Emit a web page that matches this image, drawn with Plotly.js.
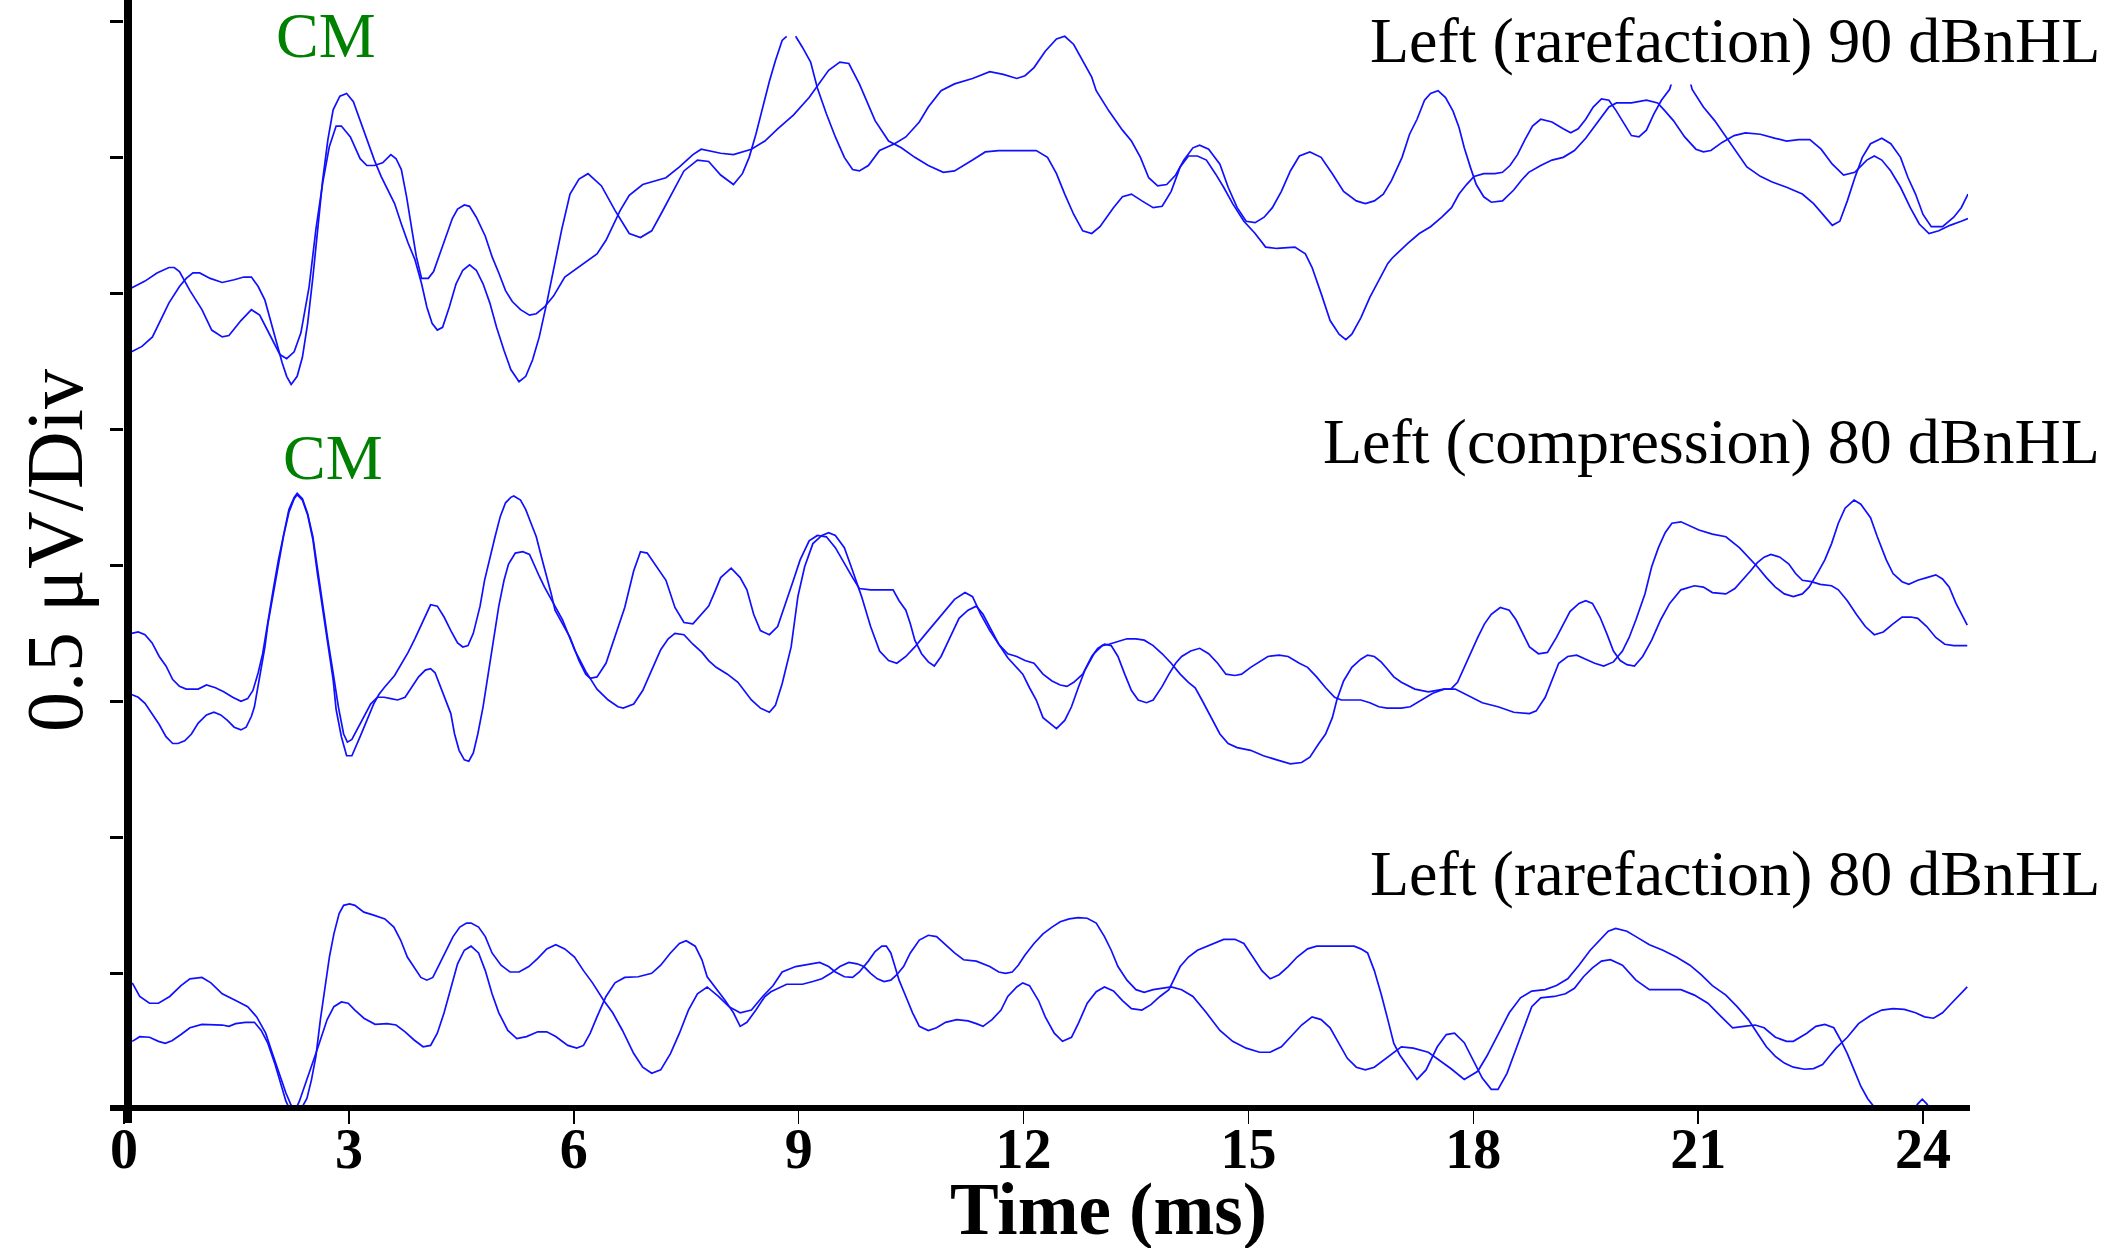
<!DOCTYPE html>
<html>
<head>
<meta charset="utf-8">
<script src="https://cdn.plot.ly/plotly-3.0.1.min.js"></script>
<style>html,body{margin:0;padding:0;background:#fff;}#chart{width:2114px;height:1248px;}</style>
</head>
<body>
<div id="chart"></div>
<script>
// ---------- DATA (time in ms, trace position in divisions of 0.5 µV) ----------
const groupLabels = ["Left (rarefaction) 90 dBnHL", "Left (compression) 80 dBnHL", "Left (rarefaction) 80 dBnHL"];
const peakLabel = "CM";
const xTickValues = [0, 3, 6, 9, 12, 15, 18, 21, 24];
const yTickValues = [1, 2, 3, 4, 5, 6, 7, 8];
const xTitle = "Time (ms)";
const yTitle = "0.5 μV/Div";

// Group 1: Left (rarefaction) 90 dBnHL, replicate 1
const timeR90a = [0.10,0.24,0.38,0.47,0.60,0.74,0.83,0.92,1.01,1.15,1.31,1.47,1.60,1.70,1.79,1.88,1.97,2.04,2.11,2.17,2.23,2.31,2.38,2.45,2.52,2.58,2.65,2.72,2.79,2.88,2.97,3.06,3.15,3.24,3.34,3.43,3.52,3.61,3.70,3.79,3.88,3.97,4.04,4.11,4.18,4.25,4.34,4.43,4.52,4.61,4.70,4.79,4.88,4.97,5.07,5.16,5.27,5.36,5.45,5.54,5.64,5.73,5.84,5.95,6.07,6.19,6.37,6.55,6.74,6.89,7.04,7.16,7.29,7.47,7.65,7.80,7.96,8.13,8.25,8.34,8.43,8.52,8.61,8.69,8.78,8.84,8.90,8.96,9.05,9.16,9.25,9.37,9.49,9.61,9.72,9.81,9.93,10.08,10.28,10.43,10.61,10.73,10.90,11.08,11.32,11.55,11.73,11.91,12.02,12.14,12.29,12.44,12.55,12.67,12.79,12.91,12.97,13.14,13.32,13.44,13.56,13.67,13.79,13.91,14.03,14.14,14.26,14.35,14.47,14.62,14.73,14.85,14.97,15.09,15.21,15.32,15.44,15.56,15.68,15.82,15.97,16.12,16.27,16.44,16.56,16.68,16.80,16.91,17.05,17.15,17.25,17.35,17.43,17.53,17.63,17.73,17.81,17.88,17.96,18.04,18.14,18.24,18.39,18.54,18.64,18.74,18.90,19.05,19.20,19.35,19.50,19.65,19.81,19.91,20.11,20.31,20.46,20.56,20.67,20.82,20.97,21.07,21.17,21.32,21.48,21.63,21.83,22.03,22.18,22.34,22.49,22.64,22.79,22.94,23.09,23.25,23.35,23.45,23.57,23.70,23.83,23.95,24.08,24.21,24.36,24.51,24.60];
const voltR90a = [5.57,5.61,5.68,5.78,5.93,6.05,6.11,6.15,6.15,6.11,6.08,6.10,6.12,6.12,6.05,5.95,5.78,5.63,5.49,5.39,5.33,5.39,5.53,5.78,6.12,6.47,6.83,7.13,7.35,7.45,7.47,7.41,7.27,7.13,6.98,6.86,6.76,6.66,6.51,6.37,6.25,6.07,5.90,5.78,5.73,5.75,5.90,6.07,6.17,6.21,6.17,6.07,5.93,5.75,5.58,5.44,5.35,5.39,5.51,5.68,5.93,6.17,6.47,6.73,6.84,6.88,6.79,6.61,6.44,6.41,6.46,6.58,6.71,6.90,6.98,6.97,6.87,6.80,6.88,7.00,7.17,7.37,7.56,7.71,7.86,7.89,null,7.89,7.81,7.70,7.51,7.32,7.15,7.00,6.91,6.90,6.94,7.05,7.10,7.15,7.26,7.37,7.49,7.54,7.58,7.63,7.61,7.58,7.60,7.66,7.78,7.87,7.89,7.83,7.71,7.59,7.49,7.34,7.20,7.12,7.00,6.85,6.79,6.80,6.87,6.98,7.07,7.09,7.06,6.95,6.78,6.63,6.53,6.52,6.56,6.63,6.75,6.90,7.01,7.04,7.00,6.88,6.75,6.68,6.66,6.68,6.73,6.83,7.00,7.17,7.28,7.42,7.47,7.49,7.44,7.34,7.22,7.07,6.93,6.80,6.71,6.67,6.68,6.76,6.83,6.89,6.94,6.98,7.00,7.05,7.14,7.25,7.37,7.40,7.40,7.42,7.40,7.34,7.27,7.15,7.06,7.04,7.05,7.11,7.16,7.18,7.17,7.14,7.12,7.13,7.13,7.06,6.95,6.87,6.89,6.98,7.01,6.98,6.90,6.78,6.63,6.51,6.44,6.46,6.50,6.53,6.55];

// Group 1: Left (rarefaction) 90 dBnHL, replicate 2
const timeR90b = [0.10,0.28,0.44,0.60,0.67,0.74,0.88,1.04,1.17,1.31,1.40,1.56,1.70,1.81,1.95,2.08,2.17,2.27,2.36,2.47,2.56,2.65,2.74,2.83,2.90,3.02,3.15,3.24,3.34,3.45,3.56,3.63,3.70,3.77,3.84,3.90,3.97,4.06,4.13,4.20,4.29,4.38,4.45,4.54,4.61,4.70,4.82,4.91,5.00,5.09,5.18,5.29,5.41,5.50,5.61,5.73,5.88,6.13,6.31,6.43,6.62,6.74,6.92,7.23,7.41,7.59,7.70,7.96,8.13,8.37,8.55,8.72,8.93,9.14,9.28,9.40,9.55,9.67,9.81,10.02,10.20,10.37,10.55,10.73,10.93,11.08,11.32,11.49,11.67,11.91,12.17,12.32,12.44,12.55,12.67,12.79,12.91,13.02,13.20,13.32,13.44,13.58,13.73,13.85,13.97,14.09,14.20,14.32,14.44,14.56,14.67,14.79,14.94,15.09,15.23,15.38,15.62,15.76,15.85,15.97,16.09,16.21,16.30,16.38,16.50,16.62,16.74,16.86,16.92,17.13,17.28,17.43,17.58,17.71,17.81,17.91,18.01,18.14,18.29,18.39,18.49,18.59,18.69,18.79,18.90,19.05,19.20,19.30,19.40,19.50,19.60,19.71,19.81,19.91,20.01,20.11,20.21,20.31,20.41,20.51,20.62,20.70,20.77,20.85,20.92,21.07,21.22,21.37,21.53,21.65,21.83,21.98,22.18,22.39,22.54,22.69,22.79,22.89,22.99,23.09,23.19,23.30,23.45,23.57,23.70,23.80,23.90,24.00,24.11,24.26,24.41,24.51,24.60];
const voltR90b = [6.04,6.09,6.15,6.19,6.19,6.16,6.02,5.88,5.73,5.68,5.69,5.80,5.88,5.84,5.69,5.55,5.52,5.57,5.71,6.05,6.47,6.81,7.08,7.23,7.23,7.15,6.99,6.94,6.94,6.96,7.02,6.99,6.91,6.71,6.47,6.27,6.11,6.11,6.16,6.27,6.42,6.55,6.62,6.65,6.64,6.56,6.42,6.27,6.15,6.02,5.94,5.88,5.84,5.85,5.90,5.98,6.12,6.22,6.29,6.39,6.61,6.72,6.80,6.85,6.93,7.02,7.06,7.03,7.02,7.06,7.12,7.21,7.31,7.44,7.55,7.64,7.70,7.69,7.54,7.27,7.12,7.07,7.00,6.94,6.89,6.90,6.98,7.04,7.05,7.05,7.05,7.00,6.88,6.73,6.58,6.46,6.44,6.49,6.63,6.71,6.73,6.68,6.63,6.64,6.75,6.93,7.01,7.01,6.98,6.88,6.78,6.66,6.53,6.44,6.34,6.33,6.34,6.29,6.19,6.00,5.80,5.70,5.66,5.70,5.82,5.97,6.09,6.22,6.26,6.37,6.44,6.49,6.56,6.63,6.73,6.80,6.86,6.88,6.88,6.89,6.94,7.02,7.13,7.23,7.28,7.26,7.21,7.18,7.21,7.28,7.37,7.43,7.42,7.34,7.25,7.16,7.15,7.20,7.32,7.42,7.50,7.65,7.72,7.65,7.50,7.37,7.27,7.15,7.02,6.93,6.86,6.82,6.78,6.73,6.66,6.56,6.50,6.53,6.68,6.85,7.00,7.10,7.14,7.10,7.00,6.85,6.73,6.58,6.49,6.49,6.56,6.63,6.73];

// Group 2: Left (compression) 80 dBnHL, replicate 1
const timeC80a = [0.10,0.19,0.28,0.375,0.47,0.56,0.65,0.72,0.81,0.90,0.99,1.10,1.20,1.29,1.38,1.47,1.56,1.63,1.70,1.74,1.79,1.83,1.88,1.92,1.99,2.06,2.13,2.20,2.27,2.31,2.38,2.45,2.52,2.58,2.65,2.72,2.79,2.83,2.90,2.97,3.04,3.15,3.24,3.33,3.40,3.47,3.61,3.70,3.79,3.88,3.97,4.03,4.09,4.18,4.27,4.36,4.45,4.52,4.59,4.66,4.75,4.81,4.88,4.95,5.02,5.09,5.16,5.20,5.29,5.36,5.43,5.50,5.57,5.64,5.70,5.75,5.95,6.07,6.16,6.22,6.31,6.43,6.55,6.68,6.80,6.89,6.98,7.10,7.23,7.35,7.47,7.59,7.71,7.80,7.87,7.96,8.10,8.22,8.31,8.40,8.49,8.61,8.72,8.81,8.93,9.02,9.14,9.25,9.37,9.49,9.61,9.72,9.81,9.96,10.14,10.26,10.34,10.43,10.49,10.55,10.64,10.73,10.81,10.90,11.02,11.14,11.26,11.37,11.46,11.55,11.67,11.79,11.91,11.99,12.08,12.17,12.26,12.35,12.44,12.55,12.64,12.73,12.82,12.94,13.05,13.14,13.26,13.38,13.50,13.61,13.73,13.85,13.97,14.09,14.20,14.29,14.38,14.50,14.62,14.73,14.85,15.03,15.20,15.38,15.56,15.71,15.82,15.94,16.03,16.12,16.18,16.27,16.38,16.50,16.59,16.68,16.77,16.85,16.94,17.04,17.22,17.40,17.61,17.76,17.94,18.12,18.33,18.54,18.75,18.84,18.96,19.05,19.14,19.26,19.38,19.50,19.62,19.74,19.87,19.99,20.08,20.17,20.29,20.38,20.47,20.56,20.65,20.77,20.89,21.01,21.19,21.37,21.55,21.67,21.79,21.91,22.03,22.15,22.27,22.39,22.48,22.60,22.69,22.78,22.87,22.96,23.08,23.17,23.30,23.39,23.51,23.60,23.72,23.81,23.93,24.05,24.17,24.26,24.35,24.44,24.53,24.59];
const voltC80a = [3.05,3.03,2.985,2.91,2.83,2.74,2.69,2.69,2.71,2.76,2.84,2.90,2.92,2.90,2.86,2.81,2.79,2.81,2.89,2.96,3.11,3.25,3.40,3.57,3.79,4.01,4.22,4.39,4.49,4.52,4.48,4.37,4.19,3.94,3.67,3.40,3.16,2.94,2.74,2.60,2.60,2.74,2.86,2.98,3.05,3.10,3.19,3.27,3.36,3.46,3.57,3.65,3.71,3.70,3.62,3.52,3.43,3.40,3.41,3.50,3.70,3.89,4.06,4.21,4.36,4.46,4.50,4.51,4.48,4.41,4.31,4.21,4.06,3.92,3.79,3.67,3.47,3.30,3.20,3.17,3.18,3.28,3.47,3.69,3.96,4.10,4.09,3.99,3.89,3.69,3.58,3.57,3.64,3.70,3.79,3.91,3.98,3.91,3.82,3.64,3.52,3.49,3.55,3.69,3.89,4.04,4.18,4.22,4.21,4.13,4.01,3.91,3.83,3.82,3.82,3.82,3.74,3.67,3.57,3.45,3.35,3.29,3.26,3.33,3.47,3.61,3.67,3.70,3.64,3.55,3.42,3.32,3.25,3.20,3.10,3.01,2.88,2.84,2.80,2.86,2.96,3.10,3.23,3.35,3.41,3.42,3.44,3.46,3.46,3.45,3.41,3.35,3.28,3.20,3.14,3.10,3.01,2.88,2.76,2.69,2.66,2.64,2.60,2.57,2.54,2.55,2.59,2.69,2.76,2.88,3.01,3.15,3.25,3.31,3.34,3.33,3.29,3.24,3.18,3.14,3.09,3.07,3.09,3.09,3.04,2.99,2.96,2.92,2.91,2.93,3.03,3.15,3.28,3.33,3.34,3.31,3.28,3.26,3.29,3.37,3.47,3.60,3.79,3.99,4.13,4.24,4.31,4.32,4.29,4.26,4.23,4.21,4.13,4.06,3.99,3.91,3.84,3.79,3.77,3.79,3.84,3.95,4.04,4.16,4.31,4.42,4.48,4.45,4.35,4.21,4.04,3.94,3.88,3.86,3.89,3.91,3.93,3.90,3.84,3.72,3.62,3.56];

// Group 2: Left (compression) 80 dBnHL, replicate 2
const timeC80b = [0.10,0.19,0.28,0.375,0.47,0.56,0.65,0.74,0.83,0.99,1.10,1.22,1.33,1.45,1.56,1.65,1.72,1.79,1.85,1.92,1.99,2.06,2.13,2.20,2.27,2.31,2.38,2.45,2.52,2.58,2.65,2.72,2.79,2.86,2.93,2.98,3.04,3.11,3.20,3.29,3.38,3.47,3.56,3.65,3.75,3.84,3.93,4.02,4.09,4.15,4.22,4.29,4.36,4.41,4.47,4.54,4.60,4.66,4.72,4.79,4.86,4.93,5.00,5.07,5.13,5.22,5.32,5.41,5.48,5.54,5.61,5.68,5.75,5.85,6.01,6.16,6.31,6.46,6.59,6.66,6.80,6.92,7.04,7.16,7.26,7.35,7.47,7.59,7.71,7.80,7.90,8.05,8.19,8.37,8.49,8.61,8.69,8.78,8.90,8.99,9.08,9.19,9.31,9.40,9.49,9.61,9.72,9.84,9.96,10.08,10.20,10.31,10.43,10.55,10.70,10.81,10.96,11.08,11.22,11.32,11.43,11.55,11.67,11.79,11.91,12.02,12.14,12.26,12.38,12.49,12.58,12.67,12.79,12.91,12.99,13.08,13.17,13.26,13.35,13.44,13.53,13.64,13.73,13.85,13.94,14.03,14.11,14.23,14.35,14.47,14.59,14.70,14.82,14.91,15.03,15.15,15.26,15.41,15.53,15.68,15.79,15.91,16.03,16.15,16.24,16.38,16.50,16.62,16.74,16.85,17.04,17.16,17.31,17.46,17.61,17.70,17.79,17.88,17.97,18.06,18.15,18.24,18.36,18.48,18.57,18.66,18.75,18.87,18.99,19.11,19.20,19.29,19.41,19.50,19.59,19.69,19.78,19.87,19.96,20.05,20.15,20.26,20.38,20.50,20.62,20.77,20.95,21.07,21.19,21.37,21.49,21.61,21.70,21.79,21.88,21.97,22.09,22.21,22.30,22.39,22.51,22.63,22.78,22.87,22.99,23.11,23.23,23.35,23.47,23.60,23.72,23.84,23.93,24.05,24.17,24.29,24.41,24.59];
const voltC80b = [3.50,3.51,3.49,3.43,3.33,3.26,3.16,3.11,3.09,3.09,3.12,3.10,3.07,3.03,3.00,3.02,3.08,3.21,3.35,3.60,3.82,4.04,4.23,4.41,4.50,4.53,4.49,4.38,4.21,3.97,3.72,3.45,3.21,2.96,2.76,2.70,2.72,2.79,2.89,2.98,3.03,3.03,3.02,3.01,3.03,3.11,3.18,3.23,3.24,3.21,3.11,3.01,2.91,2.76,2.64,2.57,2.56,2.62,2.76,2.96,3.21,3.45,3.70,3.89,4.01,4.09,4.10,4.08,3.99,3.92,3.84,3.77,3.70,3.60,3.38,3.22,3.09,3.01,2.96,2.95,2.98,3.08,3.23,3.38,3.46,3.50,3.49,3.42,3.36,3.30,3.25,3.20,3.14,3.01,2.95,2.92,2.97,3.13,3.40,3.77,3.99,4.16,4.22,4.24,4.22,4.13,3.96,3.77,3.55,3.37,3.30,3.28,3.33,3.40,3.50,3.57,3.67,3.75,3.80,3.77,3.64,3.52,3.42,3.35,3.33,3.30,3.28,3.20,3.15,3.12,3.11,3.14,3.20,3.33,3.39,3.42,3.41,3.33,3.20,3.08,3.01,2.99,3.01,3.11,3.20,3.28,3.33,3.37,3.39,3.35,3.28,3.20,3.19,3.20,3.25,3.29,3.33,3.34,3.33,3.28,3.25,3.18,3.10,3.03,3.01,3.01,3.01,2.99,2.96,2.95,2.95,2.96,3.01,3.06,3.09,3.09,3.14,3.25,3.37,3.47,3.57,3.64,3.69,3.67,3.60,3.50,3.40,3.35,3.36,3.47,3.57,3.66,3.72,3.74,3.72,3.62,3.50,3.37,3.30,3.27,3.26,3.33,3.45,3.60,3.72,3.82,3.85,3.84,3.80,3.79,3.83,3.90,3.96,4.02,4.06,4.08,4.06,4.01,3.94,3.89,3.88,3.86,3.85,3.82,3.74,3.64,3.55,3.49,3.51,3.57,3.62,3.62,3.61,3.55,3.47,3.42,3.41,3.41];

// Group 3: Left (rarefaction) 80 dBnHL, replicate 1
const timeR80a = [0.11,0.21,0.34,0.46,0.61,0.76,0.88,1.04,1.16,1.31,1.49,1.65,1.77,1.89,1.98,2.07,2.16,2.23,2.30,2.38,2.44,2.50,2.56,2.62,2.68,2.74,2.80,2.87,2.93,3.01,3.08,3.20,3.32,3.48,3.60,3.69,3.78,3.87,3.96,4.04,4.12,4.21,4.30,4.39,4.48,4.57,4.63,4.73,4.82,4.91,5.03,5.15,5.27,5.40,5.52,5.64,5.76,5.88,6.01,6.13,6.25,6.40,6.52,6.65,6.80,6.92,7.04,7.16,7.29,7.41,7.53,7.65,7.78,7.93,8.07,8.22,8.37,8.52,8.66,8.78,8.96,9.14,9.28,9.40,9.49,9.61,9.72,9.81,9.93,10.02,10.11,10.17,10.23,10.28,10.34,10.43,10.52,10.61,10.73,10.84,10.96,11.11,11.26,11.37,11.46,11.58,11.70,11.79,11.91,11.99,12.08,12.20,12.29,12.41,12.52,12.64,12.73,12.85,12.97,13.08,13.20,13.32,13.44,13.58,13.70,13.82,13.94,14.09,14.20,14.32,14.50,14.67,14.82,14.94,15.06,15.18,15.29,15.41,15.53,15.65,15.79,15.91,16.09,16.27,16.41,16.50,16.59,16.68,16.77,16.86,16.94,17.02,17.13,17.25,17.37,17.52,17.64,17.75,17.88,18.00,18.12,18.24,18.33,18.45,18.57,18.69,18.78,18.90,19.08,19.23,19.35,19.47,19.59,19.71,19.83,19.99,20.17,20.35,20.53,20.77,20.95,21.13,21.31,21.46,21.61,21.76,21.88,22.03,22.18,22.27,22.45,22.57,22.69,22.81,22.90,22.99,23.08,23.17,23.26,23.33,23.45,23.65,23.85,23.93,23.99,24.05,24.15,24.35,24.60];
const voltR80a = [0.93,0.83,0.78,0.78,0.83,0.91,0.96,0.97,0.93,0.85,0.80,0.755,0.68,0.56,0.41,0.26,0.12,0.03,-0.02,0.02,0.08,0.215,0.39,0.66,0.90,1.12,1.29,1.44,1.50,1.51,1.50,1.45,1.43,1.40,1.34,1.245,1.12,1.04,0.97,0.95,0.97,1.07,1.17,1.27,1.34,1.37,1.37,1.34,1.27,1.15,1.06,1.01,1.01,1.05,1.11,1.18,1.21,1.18,1.12,1.02,0.93,0.80,0.71,0.58,0.41,0.31,0.265,0.29,0.41,0.56,0.73,0.85,0.90,0.83,0.755,0.71,0.73,0.83,0.91,1.01,1.05,1.07,1.08,1.05,1.01,0.975,0.97,1.01,1.09,1.16,1.20,1.20,1.15,1.06,0.95,0.83,0.71,0.61,0.58,0.60,0.64,0.66,0.65,0.63,0.61,0.66,0.73,0.83,0.90,0.93,0.91,0.80,0.68,0.56,0.50,0.53,0.63,0.78,0.865,0.90,0.87,0.80,0.74,0.73,0.77,0.83,0.88,1.05,1.12,1.17,1.21,1.25,1.25,1.22,1.12,1.02,0.96,0.99,1.05,1.12,1.18,1.20,1.20,1.20,1.20,1.18,1.15,1.02,0.85,0.66,0.485,0.40,0.31,0.22,0.29,0.46,0.55,0.56,0.49,0.36,0.23,0.147,0.147,0.265,0.44,0.63,0.755,0.82,0.83,0.85,0.89,0.975,1.04,1.09,1.10,1.06,0.95,0.88,0.88,0.88,0.84,0.78,0.68,0.60,0.61,0.62,0.60,0.53,0.50,0.50,0.56,0.61,0.625,0.60,0.51,0.41,0.29,0.17,0.08,0.03,-0.08,-0.10,-0.02,0.04,0.075,0.04,-0.04,-0.12,-0.15];

// Group 3: Left (rarefaction) 80 dBnHL, replicate 2
const timeR80b = [0.11,0.21,0.34,0.46,0.55,0.64,0.76,0.88,1.04,1.19,1.31,1.40,1.49,1.62,1.74,1.83,1.92,2.01,2.10,2.16,2.23,2.29,2.34,2.41,2.50,2.59,2.71,2.80,2.90,2.99,3.08,3.20,3.35,3.51,3.63,3.75,3.87,3.99,4.09,4.18,4.27,4.36,4.45,4.54,4.63,4.73,4.82,4.91,5.00,5.12,5.24,5.37,5.52,5.64,5.76,5.92,6.04,6.13,6.22,6.31,6.43,6.55,6.68,6.86,7.04,7.16,7.29,7.41,7.50,7.62,7.71,7.78,7.90,8.02,8.13,8.22,8.31,8.43,8.55,8.63,8.84,9.05,9.19,9.31,9.43,9.55,9.67,9.78,9.87,9.96,10.05,10.14,10.23,10.31,10.40,10.49,10.61,10.73,10.84,10.96,11.08,11.20,11.37,11.55,11.67,11.76,11.85,11.93,12.02,12.14,12.26,12.38,12.49,12.61,12.73,12.85,12.97,13.08,13.17,13.26,13.38,13.50,13.61,13.73,13.85,13.97,14.11,14.26,14.44,14.62,14.79,14.97,15.15,15.29,15.44,15.56,15.71,15.85,15.97,16.09,16.21,16.32,16.44,16.56,16.68,16.80,16.91,17.04,17.20,17.40,17.70,17.88,18.06,18.18,18.33,18.48,18.63,18.78,18.96,19.11,19.26,19.41,19.56,19.71,19.80,19.90,20.05,20.17,20.35,20.53,20.71,20.89,21.04,21.19,21.37,21.52,21.67,21.79,21.91,22.03,22.15,22.27,22.42,22.54,22.66,22.75,22.84,22.99,23.14,23.30,23.45,23.60,23.75,23.90,24.02,24.14,24.26,24.38,24.50,24.59];
const voltR80b = [0.50,0.534,0.53,0.50,0.485,0.505,0.55,0.60,0.625,0.625,0.62,0.61,0.63,0.64,0.64,0.58,0.485,0.34,0.17,0.06,-0.02,0.00,0.06,0.17,0.31,0.46,0.66,0.755,0.79,0.78,0.73,0.67,0.625,0.63,0.62,0.57,0.51,0.46,0.47,0.56,0.71,0.90,1.07,1.17,1.20,1.15,1.02,0.85,0.71,0.58,0.52,0.535,0.57,0.57,0.535,0.47,0.45,0.47,0.56,0.68,0.83,0.93,0.97,0.975,1.00,1.06,1.15,1.22,1.24,1.20,1.10,0.975,0.89,0.80,0.71,0.61,0.64,0.73,0.83,0.865,0.92,0.92,0.94,0.96,1.00,1.05,1.08,1.07,1.05,1.00,0.96,0.94,0.95,0.99,1.05,1.15,1.245,1.28,1.27,1.21,1.15,1.10,1.09,1.05,1.01,1.00,1.01,1.06,1.135,1.22,1.29,1.34,1.38,1.40,1.41,1.405,1.37,1.27,1.17,1.05,0.95,0.88,0.86,0.88,0.89,0.90,0.88,0.83,0.71,0.58,0.50,0.45,0.42,0.42,0.46,0.53,0.62,0.68,0.66,0.60,0.485,0.375,0.31,0.29,0.31,0.36,0.41,0.46,0.45,0.42,0.30,0.22,0.28,0.39,0.55,0.71,0.82,0.87,0.88,0.91,0.96,1.06,1.17,1.26,1.31,1.33,1.31,1.27,1.21,1.17,1.12,1.06,0.99,0.91,0.84,0.755,0.66,0.56,0.46,0.39,0.34,0.31,0.295,0.30,0.33,0.39,0.45,0.53,0.63,0.69,0.73,0.74,0.735,0.71,0.68,0.67,0.71,0.78,0.85,0.90];

const seriesTimes = [timeR90a, timeR90b, timeC80a, timeC80b, timeR80a, timeR80b];
const seriesVolts = [voltR90a, voltR90b, voltC80a, voltC80b, voltR80a, voltR80b];

// ---------- LAYOUT / STYLE ----------
const W = 2114, H = 1248;
const L = 124, R = 146, T = 0, B = 143;
const plotW = W - L - R, plotH = H - T - B;
const px = X => (X - L) / plotW;        // figure pixel -> paper x
const py = Y => (T + plotH - Y) / plotH; // figure pixel -> paper y
const serif = '"Liberation Serif", "Times New Roman", Times, serif';
const lineBlue = '#1010ff';
const xRange = [0, 24.6];

const traces = seriesTimes.map((t, i) => ({
  type: 'scatter', mode: 'lines', x: t, y: seriesVolts[i],
  line: {color: lineBlue, width: 1.7}, connectgaps: false,
  showlegend: false, hoverinfo: 'skip'
}));

const annotations = [
  {text: groupLabels[0], x: px(2109), y: py(41)},
  {text: groupLabels[1], x: px(2109), y: py(441)},
  {text: groupLabels[2], x: px(2109), y: py(873)}
].map(a => Object.assign(a, {
  xref: 'paper', yref: 'paper', xanchor: 'right', yanchor: 'middle', showarrow: false,
  font: {family: serif, size: 64, color: '#000'}, bgcolor: '#ffffff', borderpad: 8
}));
annotations.push(
  {text: peakLabel, x: px(326), y: py(35), xref: 'paper', yref: 'paper', xanchor: 'center', yanchor: 'middle',
   showarrow: false, font: {family: serif, size: 64, color: '#008000'}},
  {text: peakLabel, x: px(333), y: py(458), xref: 'paper', yref: 'paper', xanchor: 'center', yanchor: 'middle',
   showarrow: false, font: {family: serif, size: 64, color: '#008000'}},
  {text: yTitle, x: px(55), y: py(551), xref: 'paper', yref: 'paper', xanchor: 'center', yanchor: 'middle',
   textangle: -90, showarrow: false, font: {family: serif, size: 80, color: '#000'}},
  {text: xTitle, x: px(1108), y: py(1209), xref: 'paper', yref: 'paper', xanchor: 'center', yanchor: 'middle',
   showarrow: false, borderpad: 0, font: {family: serif, size: 73, color: '#000', weight: 'bold'}}
);

const shapes = [
  // vertical axis line (reaches to the top of the figure and just below the time axis)
  {type: 'line', xref: 'paper', yref: 'paper', x0: px(128), x1: px(128), y0: py(0), y1: py(1123),
   line: {color: '#000', width: 8}, layer: 'above'},
  // time axis line
  {type: 'line', xref: 'paper', yref: 'paper', x0: px(110), x1: px(1970), y0: py(1108), y1: py(1108),
   line: {color: '#000', width: 6}, layer: 'above'}
];

const layout = {
  width: W, height: H,
  margin: {l: L, r: R, t: T, b: B, pad: 0},
  paper_bgcolor: '#fff', plot_bgcolor: '#fff',
  showlegend: false,
  // axis carrying the tick labels (no tick marks of its own)
  xaxis: {
    range: xRange, showgrid: false, zeroline: false, showline: false,
    tickmode: 'array', tickvals: xTickValues, ticktext: xTickValues.map(String),
    ticks: '', ticklabelstandoff: 6,
    tickfont: {family: serif, size: 56, color: '#000', weight: 'bold'},
    automargin: false, fixedrange: true
  },
  // overlay axis drawing the visible tick marks
  xaxis2: {
    overlaying: 'x', matches: 'x', anchor: 'y', side: 'bottom', range: xRange,
    showgrid: false, zeroline: false, showline: false, showticklabels: false,
    tickmode: 'array', tickvals: xTickValues,
    ticks: 'outside', ticklen: 18, tickwidth: 1.5, tickcolor: '#000',
    automargin: false, fixedrange: true
  },
  yaxis: {
    range: [0.032, 8.157], showgrid: false, zeroline: false, showline: false,
    tickmode: 'array', tickvals: yTickValues, showticklabels: false,
    ticks: 'outside', ticklen: 13, tickwidth: 2.6, tickcolor: '#000',
    automargin: false, fixedrange: true
  },
  annotations: annotations,
  shapes: shapes
};

// an empty trace keeps the overlay axis drawn
traces.push({type: 'scatter', mode: 'lines', x: [], y: [], xaxis: 'x2', yaxis: 'y',
  showlegend: false, hoverinfo: 'skip'});

Plotly.newPlot('chart', traces, layout, {displayModeBar: false, staticPlot: true});
</script>
</body>
</html>
